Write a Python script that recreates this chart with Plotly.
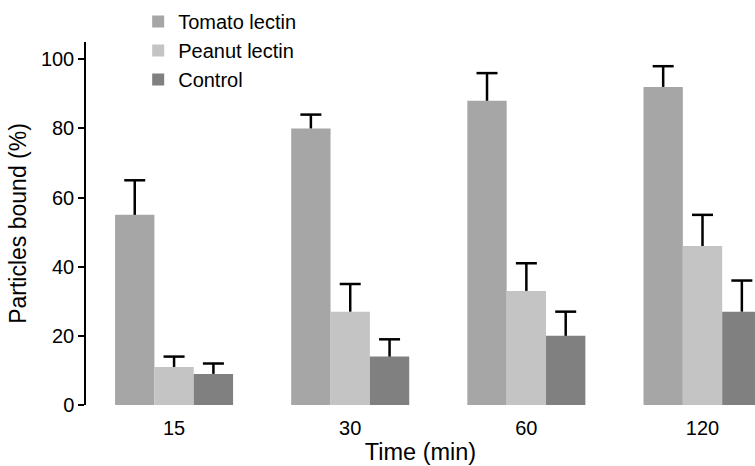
import plotly.graph_objects as go

times = ["15", "30", "60", "120"]
tomato = [55, 80, 88, 92]
tomato_err = [10, 4, 8, 6]
peanut = [11, 27, 33, 46]
peanut_err = [3, 8, 8, 9]
control = [9, 14, 20, 27]
control_err = [3, 5, 7, 9]

series = [
    ("Tomato lectin", tomato, tomato_err, "#a6a6a6"),
    ("Peanut lectin", peanut, peanut_err, "#c4c4c4"),
    ("Control", control, control_err, "#808080"),
]

BARGAP = 0.33
n = len(series)
bw = (1 - BARGAP) / n

xpos = list(range(len(times)))
fig = go.Figure()
for i, (name, vals, errs, col) in enumerate(series):
    fig.add_trace(go.Bar(
        x=xpos, y=vals, name=name, marker=dict(color=col, line=dict(width=0)),
        legendgroup=f"g{i}",
    ))

# upper-only error bars (stem + top cap)
for i, (name, vals, errs, col) in enumerate(series):
    off = (i - (n - 1) / 2) * bw
    fig.add_trace(go.Scatter(
        x=[x + off for x in xpos], y=[v + e for v, e in zip(vals, errs)],
        mode="markers", showlegend=False, hoverinfo="skip", cliponaxis=True,
        marker=dict(symbol="line-ew", size=15, line=dict(color="black", width=2.5)),
        error_y=dict(type="data", symmetric=False, array=[0] * len(errs),
                     arrayminus=errs, color="black", thickness=2.5, width=0),
    ))

fig.update_layout(
    width=755, height=466,
    margin=dict(l=86, r=0, t=42, b=61),
    plot_bgcolor="white", paper_bgcolor="white",
    barmode="group", bargap=BARGAP, bargroupgap=0,
    font=dict(family="Liberation Sans, Arial, sans-serif", size=20, color="black"),
    showlegend=True,
    legend=dict(x=0.078, y=1.11, xanchor="left", yanchor="top", traceorder="grouped",
                tracegroupgap=0, font=dict(size=20), bgcolor="rgba(0,0,0,0)"),
    xaxis=dict(range=[-0.5, 3.298], tickvals=xpos, ticktext=times, showline=False,
               ticks="", showgrid=False, zeroline=False, tickfont=dict(size=20),
               ticklabelstandoff=9,
               title=dict(text="Time (min)", standoff=5, font=dict(size=23.5))),
    yaxis=dict(range=[0, 105], tickvals=[0, 20, 40, 60, 80, 100], showline=True,
               linecolor="black", linewidth=1.5, ticks="outside", ticklen=6,
               tickwidth=1.5, tickcolor="black", showgrid=False, zeroline=False,
               tickfont=dict(size=20),
               title=dict(text="Particles bound (%)", standoff=8, font=dict(size=23))),
)

fig.write_html("out.html")
